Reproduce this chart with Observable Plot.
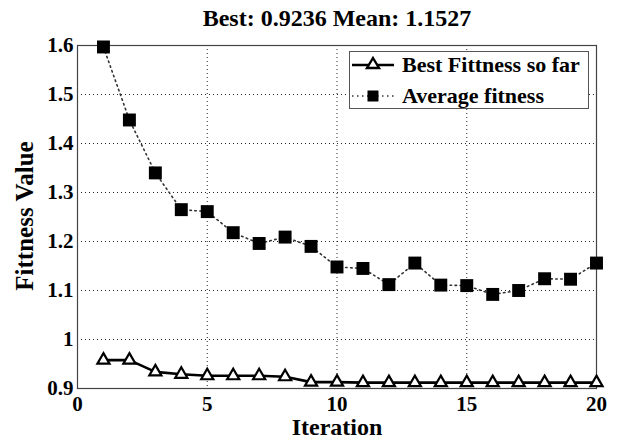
<!DOCTYPE html>
<html><head><meta charset="utf-8">
<script src="https://cdn.jsdelivr.net/npm/d3@7"></script>
<script src="https://cdn.jsdelivr.net/npm/@observablehq/plot@0.6"></script>
<style>
body{margin:0;background:#fff;}
#wrap{position:relative;width:618px;height:439px;font-family:"Liberation Serif","Times New Roman",serif;font-weight:bold;color:#000;overflow:hidden;}
#wrap svg{position:absolute;left:0;top:0;}
.ttl{position:absolute;left:78px;width:518px;top:6px;text-align:center;font-size:24px;line-height:24px;white-space:nowrap;}
.xlabel{position:absolute;left:78px;width:518px;top:416px;text-align:center;font-size:24px;line-height:22px;}
.ylabel{position:absolute;left:25px;top:216px;transform:translate(-50%,-50%) rotate(-90deg);font-size:25px;line-height:28px;white-space:nowrap;}
.legend{position:absolute;left:349px;top:51px;width:238px;height:56px;border:1px solid #555;background:#fff;}
.legend .row{position:absolute;left:0;height:30px;width:238px;}
.legend .row svg{position:absolute;left:4px;top:0;}
.legend .row span{position:absolute;left:52px;top:2px;font-size:22px;line-height:26px;white-space:nowrap;}
</style></head><body><div id="wrap"></div>
<script>
const iterations = [1,2,3,4,5,6,7,8,9,10,11,12,13,14,15,16,17,18,19,20];
const bestFitness = [0.958,0.958,0.934,0.929,0.926,0.926,0.926,0.924,0.913,0.913,0.912,0.912,0.912,0.912,0.912,0.912,0.912,0.912,0.912,0.912];
const averageFitness = [1.597,1.448,1.340,1.265,1.261,1.218,1.196,1.209,1.190,1.148,1.145,1.112,1.156,1.111,1.110,1.092,1.100,1.124,1.123,1.156];
const xTicks = [0,5,10,15,20];
const yTicks = [0.9,1.0,1.1,1.2,1.3,1.4,1.5,1.6];
const titleText = "Best: 0.9236 Mean: 1.1527";
const xLabel = "Iteration";
const yLabel = "Fittness Value";
const legendLabels = ["Best Fittness so far","Average fitness"];

const best = iterations.map((x,i)=>({x, y: bestFitness[i]}));
const avg = iterations.map((x,i)=>({x, y: averageFitness[i]}));
const fmt = d => String(+d.toFixed(1));

const chart = Plot.plot({
  width: 618, height: 439,
  marginTop: 45, marginBottom: 51, marginLeft: 77, marginRight: 22,
  style: {fontFamily: "'Liberation Serif', 'Times New Roman', serif", fontWeight: "bold", fontSize: "21px", background: "transparent", color: "black", overflow: "visible"},
  x: {domain: [0, 20], ticks: xTicks, label: null},
  y: {domain: [0.9, 1.6], ticks: yTicks, label: null, tickFormat: fmt},
  marks: [
    Plot.gridX(xTicks, {stroke: "#000", strokeOpacity: 0.85, strokeDasharray: "1,3", strokeWidth: 1}),
    Plot.gridY(yTicks, {stroke: "#000", strokeOpacity: 0.85, strokeDasharray: "1,3", strokeWidth: 1}),
    Plot.frame({stroke: "#444", strokeWidth: 1.2}),
    Plot.axisX(xTicks, {tickSize: 0, tickPadding: 8, fontSize: 21, label: null}),
    Plot.axisY(yTicks, {tickSize: 0, tickPadding: 4, fontSize: 21, label: null, tickFormat: fmt}),
    Plot.line(avg, {x: "x", y: "y", stroke: "#333", strokeWidth: 1.6, strokeDasharray: "1.5,3.5"}),
    Plot.dot(avg, {x: "x", y: "y", symbol: "square", r: 7.3, fill: "black", stroke: "none"}),
    Plot.line(best, {x: "x", y: "y", stroke: "black", strokeWidth: 2.6}),
    Plot.dot(best, {x: "x", y: "y", symbol: "triangle", r: 4.5, fill: "white", stroke: "black", strokeWidth: 2.2})
  ]
});

const wrap = document.getElementById("wrap");
wrap.appendChild(chart);

const t = document.createElement("div"); t.className = "ttl"; t.textContent = titleText; wrap.appendChild(t);
const xl = document.createElement("div"); xl.className = "xlabel"; xl.textContent = xLabel; wrap.appendChild(xl);
const yl = document.createElement("div"); yl.className = "ylabel"; yl.textContent = yLabel; wrap.appendChild(yl);

const lg = document.createElement("div"); lg.className = "legend";
lg.innerHTML = `
<div class="row" style="top:-2px">
  <svg width="46" height="30"><line x1="2" y1="15" x2="44" y2="15" stroke="black" stroke-width="2.6"/>
  <path d="M23,8 L29,18 L17,18 Z" fill="white" stroke="black" stroke-width="2.4"/></svg>
  <span>${legendLabels[0]}</span></div>
<div class="row" style="top:29px">
  <svg width="46" height="30"><line x1="2" y1="15" x2="44" y2="15" stroke="#333" stroke-width="1.6" stroke-dasharray="1.5,3.5"/>
  <rect x="17.5" y="9.5" width="11" height="11" fill="black"/></svg>
  <span>${legendLabels[1]}</span></div>`;
wrap.appendChild(lg);
</script>
</body></html>
